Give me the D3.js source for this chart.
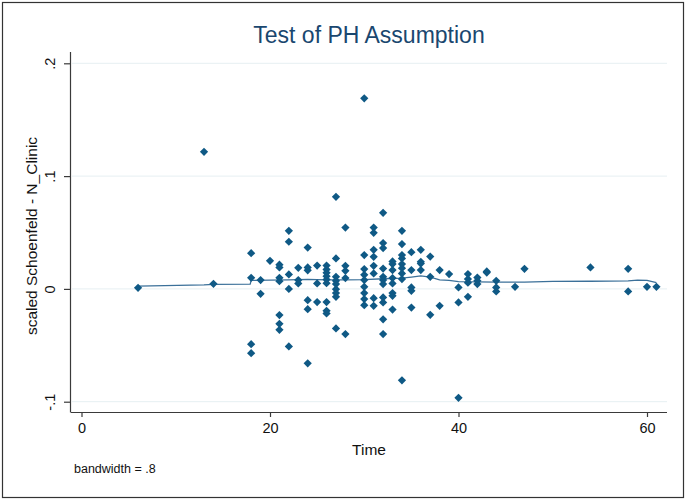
<!DOCTYPE html>
<html><head><meta charset="utf-8">
<script src="https://cdn.jsdelivr.net/npm/d3@7"></script>
<style>body{margin:0;background:#fff}svg{display:block}</style>
</head><body>
<svg id="c" width="688" height="502"></svg>
<script>
// Scaled Schoenfeld residuals grouped by event time
const times = [6,13,14,18,19,20,21,22,23,24,25,26,27,28,30,31,32,33,34,35,36,37,38,39,40,41,42,43,44,46,47,54,58,60,61];
const residuals = [
  [0.001],
  [0.1215],
  [0.0045],
  [0.0317,0.0098,-0.049,-0.057],
  [0.0078,-0.0044],
  [0.0249],
  [0.0215,0.019,0.0098,0.0068,-0.0232,-0.031,-0.0363],
  [0.0515,0.0418,0.0128,0.0,-0.051],
  [0.0187,0.0078,0.0048],
  [0.0367,0.019,0.0165,-0.01,-0.018,-0.066],
  [0.0207,0.0048,-0.0117],
  [0.0207,0.0173,0.0143,0.0113,0.0083,0.0051,-0.0117,-0.0194,-0.0218],
  [0.0816,0.027,0.0107,0.0072,0.0043,-0.0002,-0.0037,-0.007,-0.035],
  [0.0544,0.0205,0.016,0.0096,-0.040],
  [0.169,0.030,0.0176,0.0125,0.0078,0.0019,-0.0037,-0.009,-0.0144],
  [0.0544,0.0497,0.0347,0.0285,0.0205,0.0137,-0.0082,-0.015],
  [0.0675,0.0406,0.0362,0.018,0.0107,0.0078,0.0043,-0.0076,-0.012,-0.027,-0.040],
  [0.0243,0.022,0.0167,0.0096,0.0048,-0.0037,-0.0061,-0.0183],
  [0.0515,0.0397,0.030,0.027,0.022,0.0184,0.0137,0.0087,-0.081],
  [0.0326,0.0167,0.0013,-0.0017,-0.0165],
  [0.0347,0.024,0.0225,0.0167],
  [0.0287,0.0107,-0.023],
  [0.0167,-0.015],
  [0.0131],
  [0.0013,-0.012,-0.0965],
  [0.0131,0.0087,0.0055,-0.007],
  [0.0101,0.0072,0.0043],
  [0.0155,0.0145],
  [0.0072,0.0013,-0.0023],
  [0.0019],
  [0.0178],
  [0.019],
  [0.0178,-0.0023],
  [0.0019],
  [0.0019]
];
// Lowess smooth (bandwidth .8)
const smoothTime  = [6,13,14,17.9,18,20,22,24,26,28,30,32,34,35,36,37,38,39,40,42,44,47,50,54,58,59,60,61];
const smoothValue = [0.0025,0.0035,0.004,0.0042,0.0075,0.0078,0.008,0.0085,0.008,0.008,0.0083,0.009,0.0095,0.0105,0.0115,0.0105,0.008,0.0075,0.0065,0.0062,0.006,0.006,0.0067,0.0068,0.0072,0.0078,0.0075,0.0055];
const xTicks = [0,20,40,60];
const yTicks = [-0.1,0,0.1,0.2];
const yTickLabels = ["-.1","0",".1",".2"];
const titleText = "Test of PH Assumption";
const xTitle = "Time";
const yTitle = "scaled Schoenfeld - N_Clinic";
const noteText = "bandwidth = .8";

const svg = d3.select("#c");
const font = "'Liberation Sans', Arial, sans-serif";
const L = 71, R = 667, T = 52, B = 412;
const x = d3.scaleLinear().domain([0,60]).range([81.5,647]);
const y = d3.scaleLinear().domain([-0.1,0.2]).range([401.7,63.3]);

// outer frame
svg.append("rect").attr("x",2.5).attr("y",2.5).attr("width",681).attr("height",495)
  .attr("fill","#fff").attr("stroke","#333").attr("stroke-width",1.2);

// gridlines
svg.append("g").selectAll("line").data(yTicks).join("line")
  .attr("x1",L+1).attr("x2",R).attr("y1",d=>y(d)).attr("y2",d=>y(d))
  .attr("stroke","#e6eff2").attr("stroke-width",1);

// axes
const gx = svg.append("g").attr("transform",`translate(0,${B})`)
  .call(d3.axisBottom(x).tickValues(xTicks).tickSize(5).tickPadding(6).tickSizeOuter(0));
gx.select(".domain").attr("d",`M${L},0.5H${R}`);
const gy = svg.append("g").attr("transform",`translate(${L},0)`)
  .call(d3.axisLeft(y).tickValues(yTicks).tickFormat((d,i)=>yTickLabels[i]).tickSize(7).tickSizeOuter(0));
gy.select(".domain").attr("d",`M-0.5,${T}V${B+0.5}`);
[gx,gy].forEach(g=>{
  g.selectAll(".domain,line").attr("stroke","#3a3a3a").attr("stroke-width",1.2);
  g.selectAll("text").attr("font-family",font).attr("font-size",14.5).attr("fill","#111");
});
gy.selectAll(".tick text").attr("text-anchor","middle").attr("x",null).attr("dy",null)
  .attr("transform","translate(-21,0) rotate(-90)").attr("dy","0.35em");

// lowess line
const line = d3.line().x((d,i)=>x(smoothTime[i])).y((d,i)=>y(smoothValue[i]));
svg.append("path").attr("d",line(smoothTime)).attr("fill","none")
  .attr("stroke","#3b7099").attr("stroke-width",1.3);

// points
const pts = [];
times.forEach((t,i)=>residuals[i].forEach(v=>pts.push([t,v])));
const sym = d3.symbol().type(d3.symbolSquare).size(34);
svg.append("g").selectAll("path").data(pts).join("path")
  .attr("d",sym).attr("transform",d=>`translate(${x(d[0])},${y(d[1])}) rotate(45)`)
  .attr("fill","#0f5985");

// texts
svg.append("text").attr("x",(L+R)/2).attr("y",43).attr("text-anchor","middle")
  .attr("font-family",font).attr("font-size",23).attr("fill","#1a476f").text(titleText);
svg.append("text").attr("x",(L+R)/2).attr("y",455).attr("text-anchor","middle")
  .attr("font-family",font).attr("font-size",15.5).attr("fill","#111").text(xTitle);
svg.append("text").attr("transform",`translate(37,236) rotate(-90)`).attr("text-anchor","middle")
  .attr("font-family",font).attr("font-size",15.5).attr("fill","#111").text(yTitle);
svg.append("text").attr("x",74).attr("y",473)
  .attr("font-family",font).attr("font-size",12.5).attr("fill","#111").text(noteText);
</script>
</body></html>
